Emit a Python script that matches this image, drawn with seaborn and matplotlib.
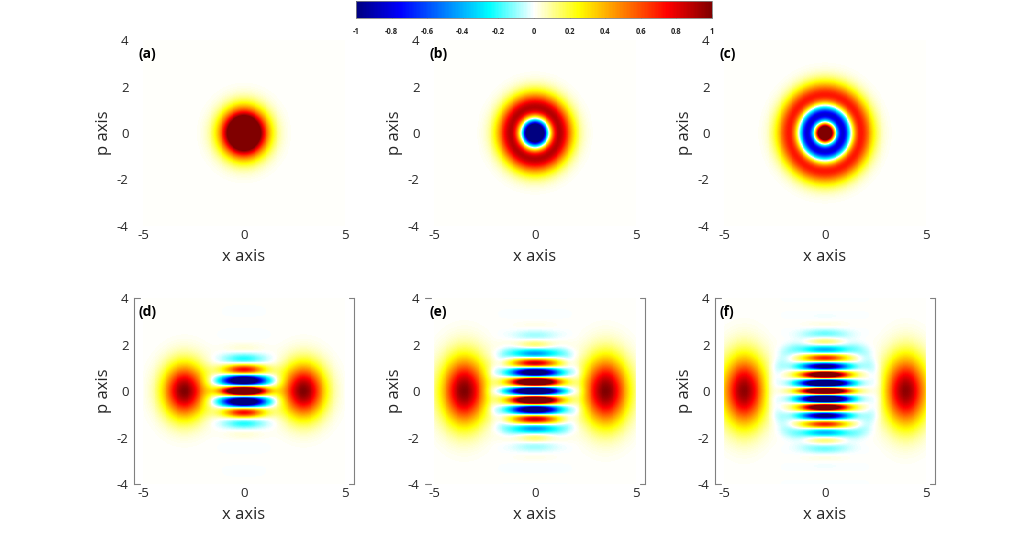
import numpy as np
import matplotlib
matplotlib.use("Agg")
import matplotlib.pyplot as plt
from matplotlib.colors import LinearSegmentedColormap
import seaborn as sns
import pandas as pd

# ---- values ----
fock_numbers = [0, 1, 2]            # top row: Fock states |0>, |1>, |2>
fock_peak = 2.0                     # colour value of the vacuum centre (colour scale clips at 1)

cat_centres = [2.95, 3.5, 4.0]      # bottom row: x of the two cat peaks
cat_signs = [1, -1, 1]              # +1 even cat (red centre), -1 odd cat (blue centre)
peak_height = [1.0, 1.0, 0.97]
peak_width_x = [1.0, 1.05, 1.0]
peak_width_p = [1.2, 1.5, 1.55]
fringe_height = [2.0, 2.0, 2.0]
fringe_width_x = [1.0, 1.1, 1.1]
fringe_width_p = [1.05, 1.45, 1.53]
halo_depth = [0.0, 0.06, 0.08]      # faint cyan ring round the fringes in (e), (f)
halo_rx = [2.0, 2.2, 2.6]
halo_rp = [2.0, 2.3, 2.5]

panel_labels = ["(a)", "(b)", "(c)", "(d)", "(e)", "(f)"]
x_ticks = [-5, 0, 5]
p_ticks = [-4, -2, 0, 2, 4]
cbar_ticks = [-1, -0.8, -0.6, -0.4, -0.2, 0, 0.2, 0.4, 0.6, 0.8, 1]
cmap_stops = [0.0, 0.125, 0.375, 0.5, 0.625, 0.875, 1.0]
cmap_colors = ["#000080", "#0000ff", "#00ffff", "#ffffff", "#ffff00", "#ff0000", "#800000"]

# image covers x in [-5, 5]; in p it spans a bit more than its tick labels say
x_vals = np.linspace(-5, 5, 221)
p_vals = np.linspace(4.3, -4.3, 187)
X, P = np.meshgrid(x_vals, p_vals)


def fock_field(n):
    u = 2 * (X ** 2 + P ** 2)
    lag = [np.ones_like(u), 1 - u, 1 - 2 * u + u ** 2 / 2][n]
    return fock_peak * (-1) ** n * lag * np.exp(-u / 2)


def cat_field(k):
    x0 = cat_centres[k]
    gp = np.exp(-(P / peak_width_p[k]) ** 2)
    peaks = peak_height[k] * gp * (np.exp(-((X - x0) / peak_width_x[k]) ** 2)
                                   + np.exp(-((X + x0) / peak_width_x[k]) ** 2))
    fringes = (cat_signs[k] * fringe_height[k] * np.cos(2 * x0 * P)
               * np.exp(-(X / fringe_width_x[k]) ** 2 - (P / fringe_width_p[k]) ** 2))
    ell = np.sqrt((X / halo_rx[k]) ** 2 + (P / halo_rp[k]) ** 2)
    halo = -halo_depth[k] * np.exp(-((ell - 1) / 0.15) ** 2)
    return peaks + fringes + halo


fields = [fock_field(n) for n in fock_numbers] + [cat_field(k) for k in range(3)]

sns.set_style("white")
plt.rcParams["font.family"] = ["Open Sans", "DejaVu Sans"]

cmap = LinearSegmentedColormap.from_list("wig", list(zip(cmap_stops, cmap_colors)))

nx, ny = len(x_vals), len(p_vals)


def col(x):
    # x value -> heatmap column coordinate
    return (x - x_vals[0]) / (x_vals[-1] - x_vals[0]) * (nx - 1) + 0.5


def tick_row(v):
    # tick label value -> heatmap row coordinate (labels -4..4 sit on the full height)
    return (4 - v) / 8 * ny


fig = plt.figure(figsize=(10.35, 5.45), dpi=100)
lefts = [134 / 1035, 425 / 1035, 715 / 1035]
bottoms = [1 - 226 / 545, 1 - 484 / 545]
aw, ah = 220 / 1035, 186 / 545
cax = fig.add_axes([356 / 1035, 1 - 18 / 545, 356 / 1035, 17 / 545])

tick_color = "#262626"
spine_color = "#808080"

for i, vals in enumerate(fields):
    r, c = divmod(i, 3)
    ax = fig.add_axes([lefts[c], bottoms[r], aw, ah])
    field = pd.DataFrame(vals, index=np.round(p_vals, 3), columns=np.round(x_vals, 3))
    sns.heatmap(field, ax=ax, cmap=cmap, vmin=-1, vmax=1,
                cbar=(i == 0), cbar_ax=cax if i == 0 else None,
                cbar_kws=dict(orientation="horizontal", ticks=cbar_ticks),
                xticklabels=False, yticklabels=False, rasterized=True)
    ax.set_xlim(col(-5.45), col(5.45))
    ax.set_ylim(ny, 0)
    ax.set_xticks([col(v) for v in x_ticks])
    ax.set_xticklabels([str(v) for v in x_ticks])
    ax.set_yticks([tick_row(v) for v in p_ticks])
    ax.set_yticklabels([str(v) for v in p_ticks], rotation=0)
    ax.tick_params(axis="x", length=0, pad=2.5, labelsize=9.5, colors=tick_color)
    ax.tick_params(axis="y", length=0, pad=4, labelsize=9.5, colors=tick_color)
    ax.set_xlabel("x axis", fontsize=12, color=tick_color, labelpad=5)
    ax.set_ylabel("p axis", fontsize=12, color=tick_color, labelpad=3)
    ax.text(col(-5.25), tick_row(3.4), panel_labels[i], fontsize=10,
            fontweight="bold", va="center", ha="left", color="black")

    if r == 1:
        # bracket-like frame left over from the original figure
        ax.spines["right"].set_visible(True)
        ax.spines["right"].set_color(spine_color)
        ax.spines["right"].set_linewidth(0.8)
        ax.set_yticks([tick_row(v) for v in [-2, 0, 2]], minor=True)
        ax.tick_params(axis="y", which="minor", left=False, right=True,
                       length=3, direction="out", color=spine_color)
        for yy in (0, 1):
            ax.plot([0.975, 1.0], [yy, yy], transform=ax.transAxes,
                    color=spine_color, lw=0.8, clip_on=False)
            ax.plot([0.0, 0.025], [yy, yy], transform=ax.transAxes,
                    color=spine_color, lw=0.8, clip_on=False)
        if c != 1:
            ax.spines["left"].set_visible(True)
            ax.spines["left"].set_color(spine_color)
            ax.spines["left"].set_linewidth(0.8)

cbar = fig.axes[1].collections[0].colorbar
cbar.outline.set_edgecolor(spine_color)
cbar.outline.set_linewidth(0.6)
cax.xaxis.set_ticks_position("bottom")
cax.tick_params(axis="x", direction="in", length=3, width=0.5, color="#555555",
                pad=6.5, labelsize=5.5)
cax.set_xticklabels([f"{t:g}" for t in cbar_ticks], fontweight="bold")

fig.savefig("out.png", dpi=100)
